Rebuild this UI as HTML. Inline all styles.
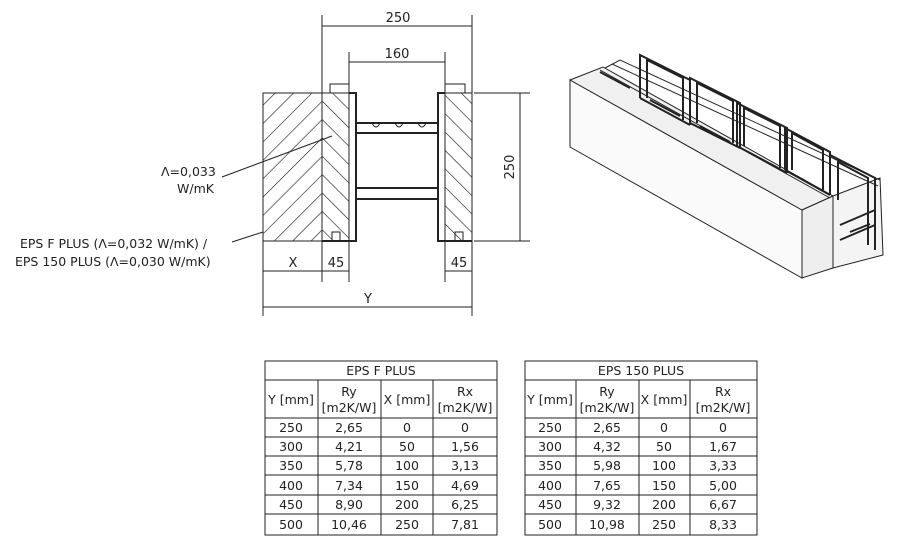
<!DOCTYPE html>
<html><head><meta charset="utf-8"><style>
body{margin:0;background:#fff;width:920px;height:554px;overflow:hidden}
svg{display:block}
text{font-family:"DejaVu Sans","Liberation Sans",sans-serif;fill:#222}
</style></head><body>
<svg width="920" height="554" viewBox="0 0 920 554" xmlns="http://www.w3.org/2000/svg">
<defs>
<pattern id="h1" width="13" height="13" patternUnits="userSpaceOnUse" patternTransform="rotate(45)"><line x1="0" y1="0" x2="0" y2="13" stroke="#222" stroke-width="1.3"/></pattern>
<pattern id="h2" width="13" height="13" patternUnits="userSpaceOnUse" patternTransform="rotate(-45)"><line x1="0" y1="0" x2="0" y2="13" stroke="#222" stroke-width="1.3"/></pattern>
</defs>
<g stroke="#222" fill="none" stroke-width="1">
<rect x="263" y="93" width="59" height="148" fill="url(#h1)"/>
<rect x="322" y="93" width="27" height="148" fill="url(#h2)"/>
<path d="M349 93 H356 V241 H322" stroke-width="2"/>
<path d="M330 93 V84 H349 V93" />
<path d="M332 241 V232 H340 V241"/>
<rect x="445" y="93" width="27" height="148" fill="url(#h2)"/>
<path d="M445 93 H438 V241 H472" stroke-width="2"/>
<path d="M445 93 V84 H465 V93"/>
<path d="M455 241 V232 H463 V241"/>
<path d="M356 123 H438 M356 133 H438 M356 188 H438 M356 199 H438" stroke-width="2"/>
<path d="M372 123 q4 8 8 0 M395 123 q4 8 8 0 M418 123 q4 8 8 0"/>
<path d="M322 15 V93 M472 15 V93 M322 26 H472"/>
<path d="M349 52 V93 M445 52 V93 M349 62 H445"/>
<path d="M474 93 H530 M474 241 H530 M520 93 V241"/>
<path d="M263 241 V316 M322 241 V282 M349 241 V282 M445 241 V282 M472 241 V316"/>
<path d="M263 271 H349 M445 271 H472 M263 307 H472"/>
<path d="M222 177 L332 136"/>
<path d="M232 242 L263 232"/>
<rect x="265" y="361" width="232" height="174"/>
<path d="M265 380 H497 M265 418 H497 M265 437 H497 M265 456 H497 M265 475 H497 M265 495 H497 M265 514 H497 M318 380 V535 M381 380 V535 M433 380 V535"/>
<rect x="525" y="361" width="232" height="174"/>
<path d="M525 380 H757 M525 418 H757 M525 437 H757 M525 456 H757 M525 475 H757 M525 495 H757 M525 514 H757 M576 380 V535 M639 380 V535 M690 380 V535"/>
<!-- 3D block -->
<polygon points="570,80 802,210 802,278 570,147" fill="#fafafa"/>
<polygon points="570,80 603,67 833,196 802,210" fill="#f0f0f0"/>
<polygon points="802,210 833,196 833,268 802,278" fill="#eee"/>
<polygon points="833,196 880,178 883,255 833,268" fill="#f4f4f4"/>
<path d="M600 70 L830 198 M605 68 L620 60 L880 180 M612 64 L878 186"/>
<g stroke-width="2">
<path d="M640 98 V55 L690 80 V125 M647 98 V60 L683 78 V120 M640 98 L690 125"/>
<path d="M690 123 V78 L740 103 V148 M697 123 V83 L733 101 V143 M690 123 L740 148"/>
<path d="M737 146 V103 L787 128 V173 M744 146 V108 L780 126 V168 M737 146 L787 173"/>
<path d="M785 170 V128 L830 152 V195 M792 170 V133 L823 150 V190 M785 170 L830 195"/>
<path d="M830 195 V155 L875 178 V250 M838 200 V162 L868 178 V245"/>
<path d="M840 225 L875 210 M840 240 L875 225 M850 232 L870 224" />
<path d="M600 72 L630 88 M650 100 L680 116 M700 126 L730 142 M748 152 L778 168"/>
</g>
</g>
<g font-size="13" text-anchor="middle">
<text x="398" y="22">250</text>
<text x="397" y="58">160</text>
<text x="514" y="167" transform="rotate(-90 514 167)">250</text>
<text x="293" y="267">X</text>
<text x="336" y="267">45</text>
<text x="459" y="267">45</text>
<text x="368" y="303">Y</text>
</g>
<g font-size="12.5">
<text x="161" y="176">Λ=0,033</text>
<text x="177" y="193">W/mK</text>
<text x="20" y="248">EPS F PLUS (Λ=0,032 W/mK) /</text>
<text x="15" y="266">EPS 150 PLUS (Λ=0,030 W/mK)</text>
</g>
<g font-size="12.5" text-anchor="middle">
<text x="381" y="375">EPS F PLUS</text>
<text x="291" y="404">Y [mm]</text><text x="349" y="396">Ry</text><text x="349" y="412">[m2K/W]</text>
<text x="407" y="404">X [mm]</text><text x="465" y="396">Rx</text><text x="465" y="412">[m2K/W]</text>
<text x="291" y="432">250</text><text x="349" y="432">2,65</text><text x="407" y="432">0</text><text x="465" y="432">0</text>
<text x="291" y="451">300</text><text x="349" y="451">4,21</text><text x="407" y="451">50</text><text x="465" y="451">1,56</text>
<text x="291" y="470">350</text><text x="349" y="470">5,78</text><text x="407" y="470">100</text><text x="465" y="470">3,13</text>
<text x="291" y="490">400</text><text x="349" y="490">7,34</text><text x="407" y="490">150</text><text x="465" y="490">4,69</text>
<text x="291" y="509">450</text><text x="349" y="509">8,90</text><text x="407" y="509">200</text><text x="465" y="509">6,25</text>
<text x="291" y="529">500</text><text x="349" y="529">10,46</text><text x="407" y="529">250</text><text x="465" y="529">7,81</text>
<text x="641" y="375">EPS 150 PLUS</text>
<text x="550" y="404">Y [mm]</text><text x="607" y="396">Ry</text><text x="607" y="412">[m2K/W]</text>
<text x="664" y="404">X [mm]</text><text x="723" y="396">Rx</text><text x="723" y="412">[m2K/W]</text>
<text x="550" y="432">250</text><text x="607" y="432">2,65</text><text x="664" y="432">0</text><text x="723" y="432">0</text>
<text x="550" y="451">300</text><text x="607" y="451">4,32</text><text x="664" y="451">50</text><text x="723" y="451">1,67</text>
<text x="550" y="470">350</text><text x="607" y="470">5,98</text><text x="664" y="470">100</text><text x="723" y="470">3,33</text>
<text x="550" y="490">400</text><text x="607" y="490">7,65</text><text x="664" y="490">150</text><text x="723" y="490">5,00</text>
<text x="550" y="509">450</text><text x="607" y="509">9,32</text><text x="664" y="509">200</text><text x="723" y="509">6,67</text>
<text x="550" y="529">500</text><text x="607" y="529">10,98</text><text x="664" y="529">250</text><text x="723" y="529">8,33</text>
</g>
</svg>
</body></html>
